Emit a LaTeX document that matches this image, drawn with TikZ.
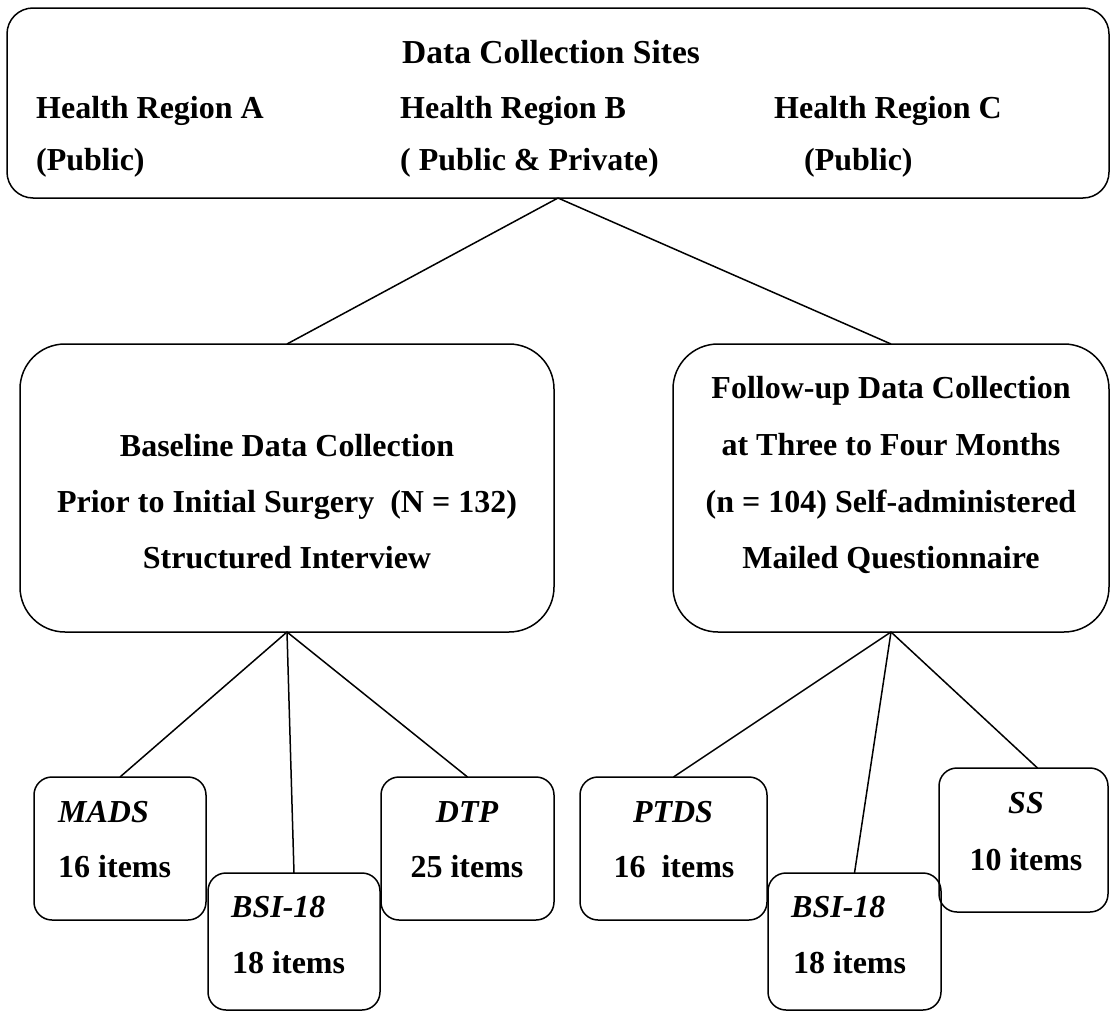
\documentclass[tikz,border=0pt]{standalone}
\usepackage{fontspec}
\setmainfont{Liberation Serif}
\usetikzlibrary{calc}
\begin{document}
\begin{tikzpicture}[x=1pt,y=-1pt,
  every node/.style={font=\fontsize{32pt}{38pt}\selectfont\bfseries},
  bigbox/.style={draw, line width=1.5pt, rounded corners=#1, inner sep=0pt, outer sep=0pt},
  lbl/.style={inner sep=0pt, anchor=base west},
  clbl/.style={inner sep=0pt, anchor=base},
  ilbl/.style={inner sep=0pt, anchor=base west, font=\fontsize{32pt}{38pt}\selectfont\bfseries\itshape},
  iclbl/.style={inner sep=0pt, anchor=base, font=\fontsize{32pt}{38pt}\selectfont\bfseries\itshape},
  conn/.style={line width=1.5pt}]
\useasboundingbox (0,0) rectangle (1112,1012);
% top box
\node[bigbox=26pt, minimum width=1102pt, minimum height=190pt] (top) at (558,103) {};
\node[lbl, font=\fontsize{33.5pt}{38pt}\selectfont\bfseries] (tt) at (402,63) {Data Collection Sites};
\node[lbl] (ra) at (36,118) {Health Region A};
\node[lbl] (rb) at (400,118) {Health Region B};
\node[lbl] (rc) at (774,118) {Health Region C};
\node[lbl] (pa) at (36,170) {(Public)};
\node[lbl] (pb) at (400,170) {( Public \& Private)};
\node[lbl] (pc) at (804,170) {(Public)};
% big boxes
\node[bigbox=45pt, minimum width=534pt, minimum height=288pt] (left) at (287,488) {};
\node[clbl] (l1) at (287,456) {Baseline Data Collection};
\node[clbl] (l2) at (287,512) {Prior to Initial Surgery\ \ (N = 132)};
\node[clbl] (l3) at (287,568) {Structured Interview};
\node[bigbox=45pt, minimum width=436pt, minimum height=288pt] (right) at (891,488) {};
\node[clbl] (r1) at (891,398) {Follow-up Data Collection};
\node[clbl] (r2) at (891,455) {at Three to Four Months};
\node[clbl] (r3) at (891,512) {(n = 104) Self-administered};
\node[clbl] (r4) at (891,568) {Mailed Questionnaire};
% small boxes
\node[bigbox=18pt, minimum width=172pt, minimum height=143pt] (mads) at (120,848.5) {};
\node[ilbl] (mads1) at (58,822) {MADS};
\node[lbl] (mads2) at (58,877) {16 items};
\node[bigbox=18pt, minimum width=172pt, minimum height=137pt] (bsil) at (294,941.5) {};
\node[ilbl] (bsil1) at (231,917) {BSI-18};
\node[lbl] (bsil2) at (232,973) {18 items};
\node[bigbox=18pt, minimum width=173pt, minimum height=143pt] (dtp) at (467.5,848.5) {};
\node[iclbl] (dtp1) at (467,822) {DTP};
\node[clbl] (dtp2) at (467,877) {25 items};
\node[bigbox=18pt, minimum width=187pt, minimum height=143pt] (ptds) at (673.5,848.5) {};
\node[iclbl] (ptds1) at (673,822) {PTDS};
\node[clbl] (ptds2) at (674,877) {16\ \ items};
\node[bigbox=18pt, minimum width=173pt, minimum height=137pt] (bsir) at (854.5,941.5) {};
\node[ilbl] (bsir1) at (791,917) {BSI-18};
\node[lbl] (bsir2) at (793,973) {18 items};
\node[bigbox=18pt, minimum width=169pt, minimum height=144pt] (ss) at (1023.5,840) {};
\node[iclbl] (ss1) at (1026,813) {SS};
\node[clbl] (ss2) at (1026,870) {10 items};
% connectors
\draw[conn] (top.south) -- (left.north);
\draw[conn] (top.south) -- (right.north);
\draw[conn] (left.south) -- (mads.north);
\draw[conn] (left.south) -- (bsil.north);
\draw[conn] (left.south) -- (dtp.north);
\draw[conn] (right.south) -- (ptds.north);
\draw[conn] (right.south) -- (bsir.north);
\draw[conn] (right.south) -- ($(ss.north)+(14,0)$);
\end{tikzpicture}
\end{document}
